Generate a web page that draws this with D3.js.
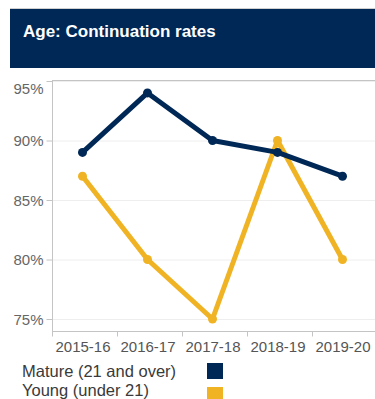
<!DOCTYPE html>
<html>
<head>
<meta charset="utf-8">
<script src="https://cdn.jsdelivr.net/npm/d3@7"></script>
<style>
  html, body { margin: 0; padding: 0; background: #fff; overflow: hidden; }
  svg { display: block; font-family: "Liberation Sans", Arial, sans-serif; }
</style>
</head>
<body>
<svg id="chart" width="375" height="399"></svg>
<script>
// Academic years on the x axis
const years = ["2015-16", "2016-17", "2017-18", "2018-19", "2019-20"];
// Continuation rates (%) by age group
const mature = [89, 94, 90, 89, 87];
const young = [87, 80, 75, 90, 80];
// Y axis ticks (%)
const yTicks = [75, 80, 85, 90, 95];
const seriesNames = ["Mature (21 and over)", "Young (under 21)"];
const seriesColors = ["#002856", "#f0b323"];

const svg = d3.select("#chart");

// Header banner
svg.append("line")
  .attr("x1", 10).attr("x2", 375).attr("y1", 8.5).attr("y2", 8.5)
  .attr("stroke", "#d0d0d0").attr("stroke-width", 1);
svg.append("rect")
  .attr("x", 10).attr("y", 9).attr("width", 365).attr("height", 59)
  .attr("fill", "#002856");
svg.append("text")
  .attr("x", 23).attr("y", 37)
  .attr("fill", "#fff")
  .attr("font-size", 17).attr("font-weight", "bold")
  .text("Age: Continuation rates");

// Plot area bounds
const plotLeft = 52, plotRight = 377, plotTop = 80, plotBottom = 331;
const x = d3.scaleBand().domain(years).range([plotLeft, plotRight]);
const y = d3.scaleLinear().domain([75, 95]).range([319, 81]);

// Gridlines
svg.append("g").selectAll("line").data(yTicks).join("line")
  .attr("x1", plotLeft).attr("x2", 375)
  .attr("y1", d => y(d) + 0.5).attr("y2", d => y(d) + 0.5)
  .attr("stroke", "#eeeeee").attr("stroke-width", 1);

// Plot frame: top border
svg.append("line")
  .attr("x1", plotLeft).attr("x2", 375).attr("y1", plotTop + 0.5).attr("y2", plotTop + 0.5)
  .attr("stroke", "#c4c4c4");

// Y axis
const yAxis = svg.append("g")
  .attr("transform", `translate(${plotLeft + 0.5},0)`)
  .call(d3.axisLeft(y).tickValues(yTicks).tickFormat(d => d + "%").tickSize(6).tickPadding(3))
  .call(g => g.select(".domain").attr("d", `M0,${plotTop}V${plotBottom}`).attr("stroke", "#c4c4c4"));
yAxis.selectAll(".tick line").attr("stroke", "#c4c4c4");
yAxis.selectAll(".tick text")
  .attr("fill", "#666").attr("font-size", 15)
  .attr("font-family", "Liberation Sans, Arial, sans-serif")
  .attr("dy", d => d === 95 ? "0.85em" : "0.35em");

// X axis with ticks at band boundaries
const xAxis = svg.append("g")
  .attr("transform", `translate(0,${plotBottom + 0.5})`);
xAxis.append("line")
  .attr("x1", plotLeft).attr("x2", 375)
  .attr("stroke", "#c4c4c4");
xAxis.selectAll(".tk").data(years).join("line")
  .attr("class", "tk")
  .attr("x1", d => x(d) + 0.5).attr("x2", d => x(d) + 0.5)
  .attr("y1", 0).attr("y2", 5)
  .attr("stroke", "#c4c4c4");
xAxis.selectAll("text").data(years).join("text")
  .attr("x", d => x(d) + x.bandwidth() / 2 - 1.5)
  .attr("y", 20)
  .attr("text-anchor", "middle")
  .attr("fill", "#555").attr("font-size", 15)
  .text(d => d);

// Lines and points (young drawn first, mature on top)
const cx = (i) => x(years[i]) + x.bandwidth() / 2 - 2;
const line = d3.line()
  .x((d, i) => cx(i))
  .y(d => y(d));

[[young, seriesColors[1]], [mature, seriesColors[0]]].forEach(([vals, color]) => {
  svg.append("path")
    .datum(vals)
    .attr("d", line)
    .attr("fill", "none")
    .attr("stroke", color)
    .attr("stroke-width", 5)
    .attr("stroke-linejoin", "round");
  svg.append("g").selectAll("circle").data(vals).join("circle")
    .attr("cx", (d, i) => cx(i))
    .attr("cy", d => y(d))
    .attr("r", 4.5)
    .attr("fill", color);
});

// Legend
const legend = svg.append("g");
seriesNames.forEach((name, i) => {
  legend.append("text")
    .attr("x", 22).attr("y", 376.5 + i * 19)
    .attr("fill", "#3a3a3a").attr("font-size", 16.5)
    .text(name);
  legend.append("rect")
    .attr("x", 207).attr("y", 363 + i * 24)
    .attr("width", 16).attr("height", 16)
    .attr("fill", seriesColors[i]);
});
</script>
</body>
</html>
